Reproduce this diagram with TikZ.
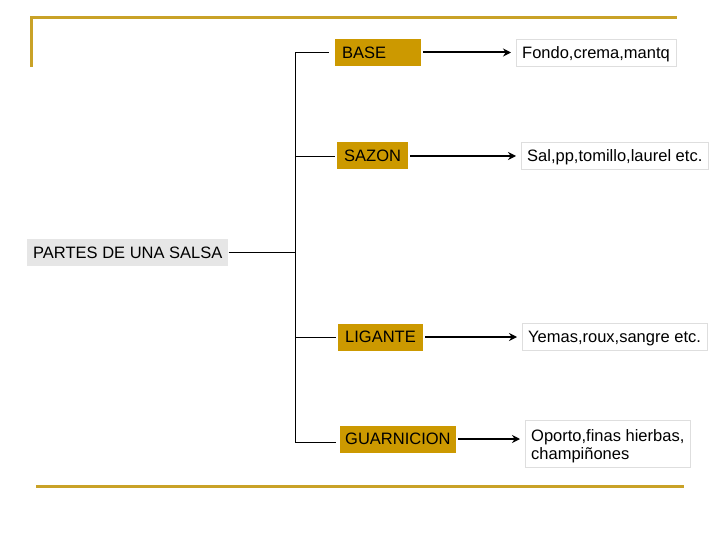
\documentclass[tikz,border=0pt]{standalone}
\usepackage{fontspec}
\setmainfont{Liberation Sans}
\usepackage{tikz}
\usetikzlibrary{arrows.meta}
\definecolor{oro}{RGB}{204,153,0}
\definecolor{linea}{RGB}{201,162,39}
\definecolor{gris}{RGB}{230,230,230}
\definecolor{borde}{RGB}{222,222,222}

\begin{document}
\begin{tikzpicture}[x=1pt,y=-1pt,
  every node/.style={font=\fontsize{16.5}{18}\selectfont, inner ysep=0pt},
  caja/.style={text height=11.9pt, text depth=0pt, minimum height=27pt, anchor=west},
  parte/.style={caja, fill=oro, inner xsep=7pt},
  detalle/.style={caja, draw=borde, fill=white, inner xsep=6pt},
  flecha/.style={-{Stealth[length=8pt,width=8pt]}, line width=2pt, shorten >=5pt, shorten <=2pt}]
\useasboundingbox (0,0) rectangle (720,540);
% marco
\draw[linea, line width=3pt] (31,67) -- (31,18) -- (677,18);
\draw[linea, line width=3pt] (36,486) -- (684,486);
% titulo
\node[caja, fill=gris, inner xsep=6pt] (salsa) at (27,252.5) {PARTES DE UNA SALSA};
 \begin{scope}
  \node[parte, text width=72pt, align=left] (base) at (335,52.5) {BASE};
  \node[parte] (sazon) at (337,156) {SAZON};
  \node[parte] (ligante) at (338,337) {LIGANTE};
  \node[parte, inner xsep=5pt] (guarnicion) at (340,439) {GUARNICION};
 \end{scope}
 \begin{scope}
  \node[detalle] (fondo) at (516,52.5) {Fondo,crema,mantq};
  \node[detalle] (sal) at (521,156) {Sal,pp,tomillo,laurel etc.};
  \node[detalle] (yemas) at (522,337) {Yemas,roux,sangre etc.};
  \node[draw=borde, fill=white, anchor=west, inner xsep=6pt, minimum height=47pt, align=left] (oporto) at (525,443.5) {\rule{0pt}{16.5pt}Oporto,finas hierbas,\\champiñones};
 \end{scope}
% llave
\coordinate (c1) at (295,52.5);
\coordinate (c2) at (295,156);
\coordinate (c0) at (295,252.5);
\coordinate (c3) at (295,337);
\coordinate (c4) at (295,442);
\draw[line width=0.9pt] (c1) -- (c4);
 \begin{scope}[line width=0.9pt]
  \path [-] (salsa) edge (c0);
  \path [-] (c1) edge [shorten >=6pt] (base);
  \path [-] (c2) edge [shorten >=2pt] (sazon);
  \path [-] (c3) edge [shorten >=2pt] (ligante);
  \path [-] (c4) edge [shorten >=4pt] (guarnicion.west |- c4);
 \end{scope}
% flechas
  \draw [flecha] (base) -- (fondo);
  \draw [flecha] (sazon) -- (sal);
  \draw [flecha] (ligante) -- (yemas);
  \draw [flecha] (guarnicion) -- (oporto.west |- guarnicion);
\end{tikzpicture}
\end{document}
